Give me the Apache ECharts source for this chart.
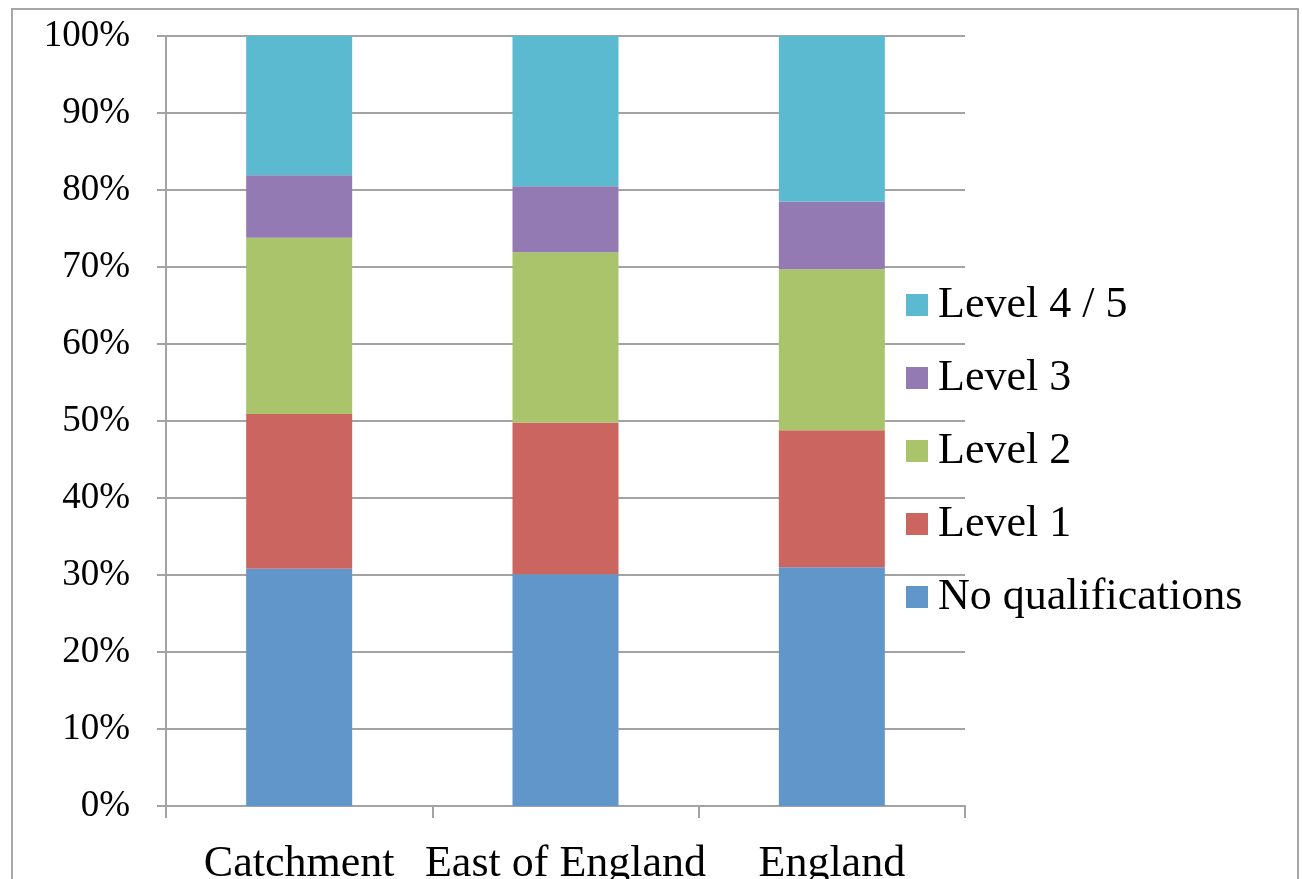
<!DOCTYPE html>
<html>
<head>
<meta charset="utf-8">
<script src="https://cdn.jsdelivr.net/npm/echarts@6/dist/echarts.min.js"></script>
<style>
  html, body { margin: 0; padding: 0; background: #ffffff; }
  #chart { width: 1302px; height: 879px; }
</style>
</head>
<body>
<div id="chart"></div>
<script>
// Qualification levels by area (share of residents, %)
const categories = ['Catchment', 'East of England', 'England'];
const noQualifications = [30.8, 30.1, 31.0];
const level1 = [20.1, 19.7, 17.8];
const level2 = [22.9, 22.1, 20.9];
const level3 = [8.1, 8.6, 8.8];
const level45 = [18.1, 19.5, 21.5];
const yTicks = [0, 10, 20, 30, 40, 50, 60, 70, 80, 90, 100];

const FONT = '"Liberation Serif", "DejaVu Serif", serif';
const GRID_GREY = '#a3a3a3';

const seriesDefs = [
  { name: 'No qualifications', data: noQualifications, color: '#6096ca' },
  { name: 'Level 1', data: level1, color: '#cb6560' },
  { name: 'Level 2', data: level2, color: '#aac46b' },
  { name: 'Level 3', data: level3, color: '#937ab2' },
  { name: 'Level 4 / 5', data: level45, color: '#5bb9d0' }
];

const chart = echarts.init(document.getElementById('chart'), null, { renderer: 'canvas' });

chart.setOption({
  animation: false,
  backgroundColor: '#ffffff',
  graphic: [{
    type: 'rect',
    shape: { x: 12, y: 9, width: 1286, height: 900 },
    style: { fill: 'none', stroke: '#a6a6a6', lineWidth: 2 },
    z: -1
  }],
  grid: {
    left: 166, right: 337, top: 36, bottom: 73,
    containLabel: false,
    outerBoundsMode: 'none'
  },
  legend: {
    orient: 'vertical',
    left: 901,
    top: 278,
    itemWidth: 22,
    itemHeight: 22,
    itemGap: 29,
    icon: 'rect',
    data: ['Level 4 / 5', 'Level 3', 'Level 2', 'Level 1', 'No qualifications'],
    textStyle: { fontFamily: FONT, fontSize: 44, color: '#000', padding: [4, 0, 0, 5] }
  },
  xAxis: {
    type: 'category',
    data: categories,
    axisLine: { show: true, lineStyle: { color: GRID_GREY, width: 2 } },
    axisTick: { show: true, length: 12, lineStyle: { color: GRID_GREY, width: 2 } },
    axisLabel: { fontFamily: FONT, fontSize: 44, color: '#000', margin: 36, interval: 0 },
    splitLine: { show: false }
  },
  yAxis: {
    type: 'value',
    min: yTicks[0],
    max: yTicks[yTicks.length - 1],
    interval: 10,
    axisLine: { show: true, lineStyle: { color: GRID_GREY, width: 2 } },
    axisTick: { show: true, length: 9, lineStyle: { color: GRID_GREY, width: 2 } },
    axisLabel: { fontFamily: FONT, fontSize: 37, color: '#000', margin: 36, formatter: v => v + '%' },
    splitLine: { show: true, lineStyle: { color: GRID_GREY, width: 2 } }
  },
  series: seriesDefs.map(s => ({
    name: s.name,
    type: 'bar',
    stack: 'total',
    barWidth: 106,
    data: s.data,
    itemStyle: { color: s.color },
    emphasis: { disabled: true }
  }))
});
</script>
</body>
</html>
